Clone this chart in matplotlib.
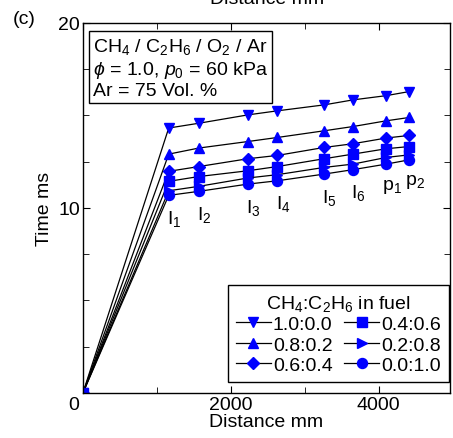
import matplotlib
matplotlib.use("Agg")
import matplotlib.pyplot as plt
import matplotlib.transforms as mtransforms
from matplotlib.ticker import MultipleLocator

plt.rcParams['font.family'] = ['Liberation Sans', 'DejaVu Sans']
plt.rcParams['mathtext.fontset'] = 'custom'
plt.rcParams['mathtext.rm'] = 'Liberation Sans'
plt.rcParams['mathtext.it'] = 'Liberation Sans:italic'
plt.rcParams['mathtext.default'] = 'regular'

# probe positions (mm) and arrival times (ms)
distance = [0, 1160, 1570, 2230, 2630, 3260, 3650, 4100, 4410]
probe_names = ["I$_1$", "I$_2$", "I$_3$", "I$_4$", "I$_5$", "I$_6$", "p$_1$", "p$_2$"]

t_10_00 = [0, 14.32, 14.58, 15.03, 15.25, 15.57, 15.84, 16.07, 16.29]
t_08_02 = [0, 12.91, 13.24, 13.59, 13.81, 14.17, 14.40, 14.71, 14.89]
t_06_04 = [0, 11.98, 12.24, 12.66, 12.84, 13.27, 13.47, 13.78, 13.92]
t_04_06 = [0, 11.44, 11.70, 12.01, 12.24, 12.66, 12.91, 13.20, 13.32]
t_02_08 = [0, 10.93, 11.17, 11.62, 11.80, 12.19, 12.37, 12.73, 12.87]
t_00_10 = [0, 10.68, 10.90, 11.29, 11.47, 11.83, 12.07, 12.37, 12.60]

series = [
    ("1.0:0.0", t_10_00, "v"),
    ("0.8:0.2", t_08_02, "^"),
    ("0.6:0.4", t_06_04, "D"),
    ("0.4:0.6", t_04_06, "s"),
    ("0.2:0.8", t_02_08, ">"),
    ("0.0:1.0", t_00_10, "o"),
]

FS = 14

fig = plt.figure(figsize=(4.53, 4.39), dpi=100)
ax = fig.add_axes([0.183, 0.1025, 0.810, 0.843])

handles = {}
for name, t, m in series:
    ms = 5.8 if m == "D" else 7.2
    h, = ax.plot(distance, t, color="black", lw=0.9, marker=m, ms=ms,
                 mfc="blue", mec="blue", label=name)
    handles[name] = h

# probe labels below the lowest series
for i, nm in enumerate(probe_names):
    ax.annotate(nm, (distance[i + 1], t_00_10[i + 1]), xytext=(4, -9),
                textcoords="offset points", ha="center", va="top", fontsize=FS)

ax.set_xlim(0, 4960)
ax.set_ylim(0, 20)
ax.set_xticks([0, 2000, 4000])
ax.set_xticklabels(["0", "2000", "4000"])
ax.xaxis.set_minor_locator(MultipleLocator(1000))
ax.set_yticks([10, 20])
ax.set_yticklabels(["10", "20"])
ax.yaxis.set_minor_locator(MultipleLocator(2.5))
ax.tick_params(which="both", direction="in", top=True, right=True, labelsize=FS)
ax.tick_params(which="major", length=5, pad=2)
ax.tick_params(which="minor", length=4)
for s in ax.spines.values():
    s.set_linewidth(1.0)

# the "0" label sits a little left of the corner
lab0 = ax.get_xticklabels()[0]
lab0.set_transform(lab0.get_transform() +
                   mtransforms.ScaledTranslation(-0.09, 0, fig.dpi_scale_trans))

ax.set_xlabel("Distance mm", fontsize=FS, labelpad=0)
ax.set_ylabel("Time ms", fontsize=FS, labelpad=4)

ax.text(0.028, 0.965,
        "CH$_4$ / C$_2$H$_6$ / O$_2$ / Ar\n$\\it{\\phi}$ = 1.0, $\\it{p}_0$ = 60 kPa\nAr = 75 Vol. %",
        transform=ax.transAxes, ha="left", va="top", fontsize=FS, linespacing=1.2,
        bbox=dict(boxstyle="square,pad=0.2", fc="white", ec="black", lw=1.0))

order = ["1.0:0.0", "0.8:0.2", "0.6:0.4", "0.4:0.6", "0.2:0.8", "0.0:1.0"]
leg = ax.legend([handles[k] for k in order], order, ncol=2, loc="lower right",
                bbox_to_anchor=(0.997, 0.03),
                title="CH$_4$:C$_2$H$_6$ in fuel", fontsize=FS, title_fontsize=FS,
                frameon=True, fancybox=False, edgecolor="black", framealpha=1,
                handlelength=1.8, handletextpad=0.1, columnspacing=0.6,
                labelspacing=0.15, borderpad=0.4, borderaxespad=0.0)
leg.get_frame().set_linewidth(1.0)

fig.text(0.028, 0.955, "(c)", fontsize=FS, ha="left", va="center")
fig.text(0.59, 1.0, "Distance mm", fontsize=FS, ha="center", va="center")

fig.savefig("out.png", dpi=100)
